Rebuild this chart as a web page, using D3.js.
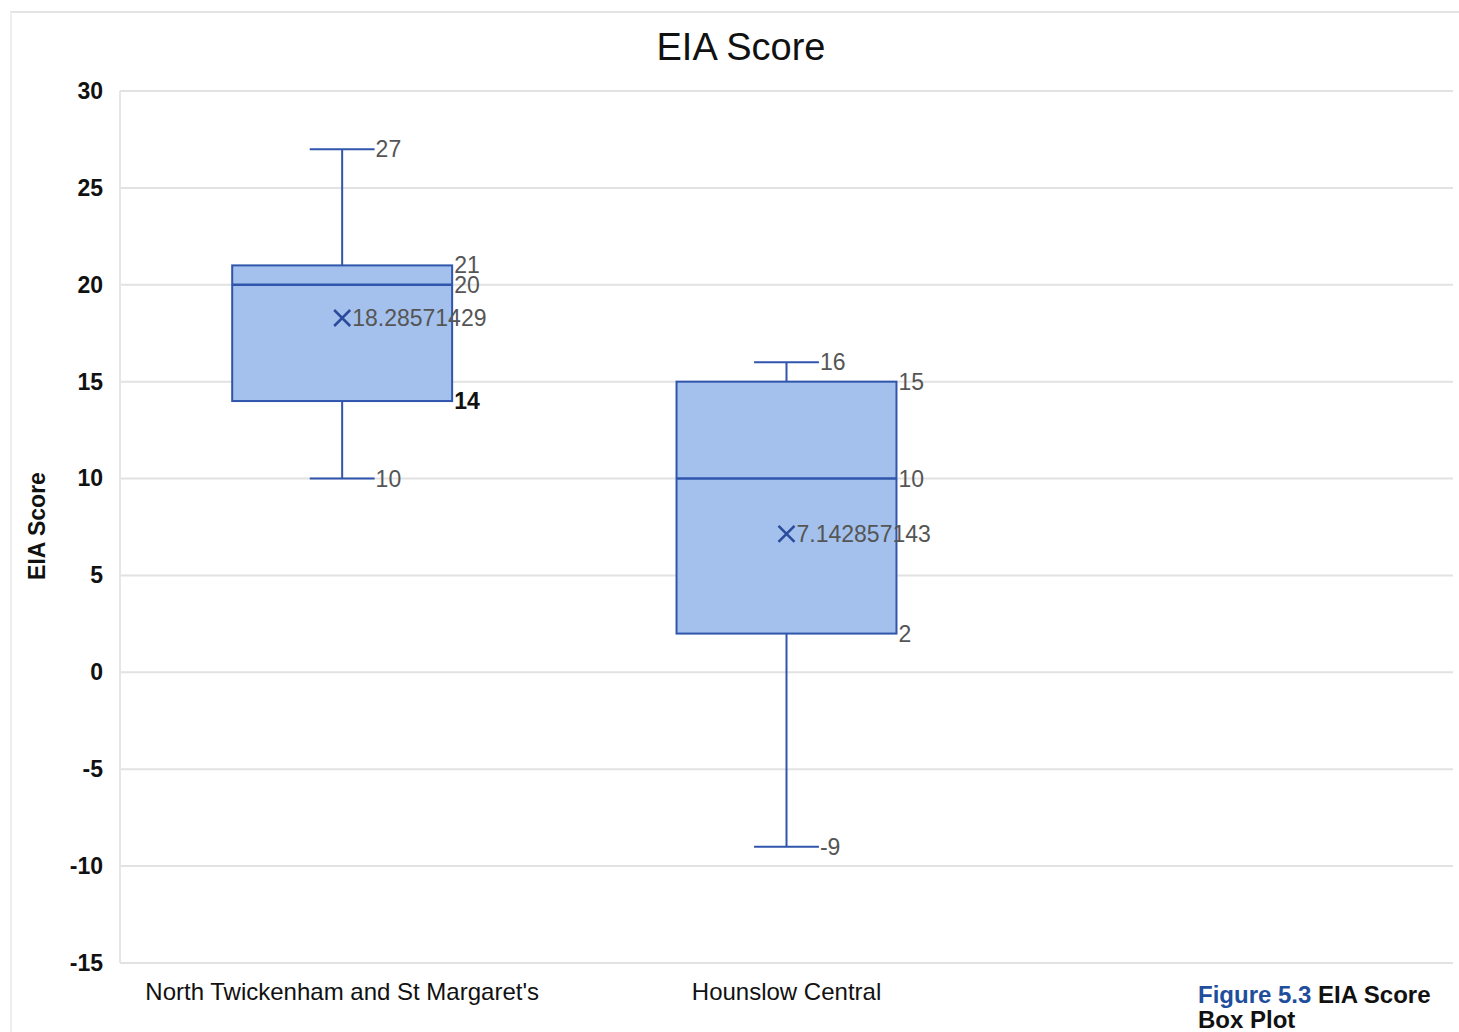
<!DOCTYPE html>
<html>
<head>
<meta charset="utf-8">
<script src="https://cdn.jsdelivr.net/npm/d3@7"></script>
<style>
  body { margin: 0; background: #fff; }
  svg { display: block; font-family: "Liberation Sans", Arial, sans-serif; }
</style>
</head>
<body>
<svg id="chart" width="1459" height="1032"></svg>
<script>
// Wards shown along the x axis (third slot left empty)
const categories = ["North Twickenham and St Margaret's", "Hounslow Central", ""];
// Five-number summaries plus mean, per ward
const minValues    = [10, -9];
const q1Values     = [14, 2];
const medianValues = [20, 10];
const q3Values     = [21, 15];
const maxValues    = [27, 16];
const meanValues   = [18.28571429, 7.142857143];
const meanLabels   = ["18.28571429", "7.142857143"];
const yTicks = [30, 25, 20, 15, 10, 5, 0, -5, -10, -15];

const svg = d3.select("#chart");
const margin = { left: 120, right: 1453, top: 91, bottom: 963 };

const x = d3.scaleBand().domain(categories).range([margin.left, margin.right]).padding(0);
const y = d3.scaleLinear().domain([-15, 30]).range([margin.bottom, margin.top]);

const stroke = "#2f55ac";
const fill = "#a3c1ec";
const labelColor = "#555";
const labelSize = 23;

// faint outer frame
svg.append("line").attr("x1", 10).attr("x2", 1459).attr("y1", 12).attr("y2", 12)
  .attr("stroke", "#e4e4e4").attr("stroke-width", 2);
svg.append("line").attr("x1", 11).attr("x2", 11).attr("y1", 12).attr("y2", 1032)
  .attr("stroke", "#eeeeee").attr("stroke-width", 2);

// gridlines
svg.append("g").selectAll("line").data(yTicks).join("line")
  .attr("x1", margin.left).attr("x2", margin.right)
  .attr("y1", d => y(d)).attr("y2", d => y(d))
  .attr("stroke", "#e2e2e2").attr("stroke-width", 2);
// left axis line
svg.append("line").attr("x1", margin.left).attr("x2", margin.left)
  .attr("y1", margin.top).attr("y2", margin.bottom)
  .attr("stroke", "#e6e6e6").attr("stroke-width", 2);

// y axis tick labels (plain hyphen for negatives)
const yAxis = d3.axisLeft(y).tickValues(yTicks).tickSize(0).tickPadding(17)
  .tickFormat(d => String(d));
const gy = svg.append("g").attr("transform", `translate(${margin.left},0)`).call(yAxis);
gy.select(".domain").remove();
gy.selectAll("text").attr("font-size", 23).attr("fill", "#111")
  .attr("font-family", "Liberation Sans, Arial, sans-serif").attr("font-weight", "bold");

// x axis category labels
const xAxis = d3.axisBottom(x).tickSize(0).tickPadding(20);
const gx = svg.append("g").attr("transform", `translate(0,${margin.bottom})`).call(xAxis);
gx.select(".domain").remove();
gx.selectAll("text").attr("font-size", 24).attr("fill", "#111")
  .attr("font-family", "Liberation Sans, Arial, sans-serif");

// title
svg.append("text").attr("x", 741).attr("y", 60).attr("text-anchor", "middle")
  .attr("font-size", 38).attr("fill", "#111").text("EIA Score");

// y axis title
svg.append("text").attr("transform", "translate(45,526) rotate(-90)")
  .attr("text-anchor", "middle").attr("font-size", 23).attr("font-weight", "bold")
  .attr("fill", "#111").text("EIA Score");

// box plots
const boxW = x.bandwidth() * 0.495;
const capW = x.bandwidth() * 0.146;
const data = minValues.map((d, i) => ({
  cat: categories[i], min: d, q1: q1Values[i], med: medianValues[i],
  q3: q3Values[i], max: maxValues[i], mean: meanValues[i], meanLabel: meanLabels[i]
}));

const g = svg.append("g");
data.forEach(d => {
  const cx = x(d.cat) + x.bandwidth() / 2;
  const x0 = cx - boxW / 2, x1 = cx + boxW / 2;
  // whiskers
  g.append("line").attr("x1", cx).attr("x2", cx).attr("y1", y(d.max)).attr("y2", y(d.q3))
    .attr("stroke", stroke).attr("stroke-width", 2);
  g.append("line").attr("x1", cx).attr("x2", cx).attr("y1", y(d.q1)).attr("y2", y(d.min))
    .attr("stroke", stroke).attr("stroke-width", 2);
  [d.max, d.min].forEach(v => {
    g.append("line").attr("x1", cx - capW / 2).attr("x2", cx + capW / 2)
      .attr("y1", y(v)).attr("y2", y(v)).attr("stroke", stroke).attr("stroke-width", 2);
    g.append("text").attr("x", cx + capW / 2 + 1).attr("y", y(v) + 8)
      .attr("font-size", labelSize).attr("fill", labelColor).text(v);
  });
  // box
  g.append("rect").attr("x", x0).attr("y", y(d.q3)).attr("width", boxW)
    .attr("height", y(d.q1) - y(d.q3)).attr("fill", fill)
    .attr("stroke", stroke).attr("stroke-width", 2);
  g.append("line").attr("x1", x0).attr("x2", x1).attr("y1", y(d.med)).attr("y2", y(d.med))
    .attr("stroke", stroke).attr("stroke-width", 2.5);
  // box value labels (q1 label on the first box prints heavier)
  [d.q3, d.med, d.q1].forEach((v, k) => {
    const heavy = (k === 2 && d.q1 === 14);
    g.append("text").attr("x", x1 + 2).attr("y", y(v) + 8)
      .attr("font-size", labelSize)
      .attr("font-weight", heavy ? "bold" : "normal")
      .attr("fill", heavy ? "#111" : labelColor).text(v);
  });
  // mean marker
  const my = y(d.mean), s = 8;
  g.append("path").attr("d", `M${cx - s},${my - s}L${cx + s},${my + s}M${cx - s},${my + s}L${cx + s},${my - s}`)
    .attr("stroke", "#2a4a9c").attr("stroke-width", 2.5);
  g.append("text").attr("x", cx + s + 2).attr("y", my + 8)
    .attr("font-size", labelSize).attr("fill", labelColor).text(d.meanLabel);
});

// figure caption
const cap = svg.append("text").attr("x", 1198).attr("y", 1003)
  .attr("font-size", 24).attr("font-weight", "bold")
  .attr("font-family", "Liberation Sans, Arial, sans-serif");
cap.append("tspan").attr("fill", "#1f4e9c").text("Figure 5.3 ");
cap.append("tspan").attr("fill", "#111").text("EIA Score");
svg.append("text").attr("x", 1198).attr("y", 1028)
  .attr("font-size", 24).attr("font-weight", "bold").attr("fill", "#111")
  .text("Box Plot");
</script>
</body>
</html>
